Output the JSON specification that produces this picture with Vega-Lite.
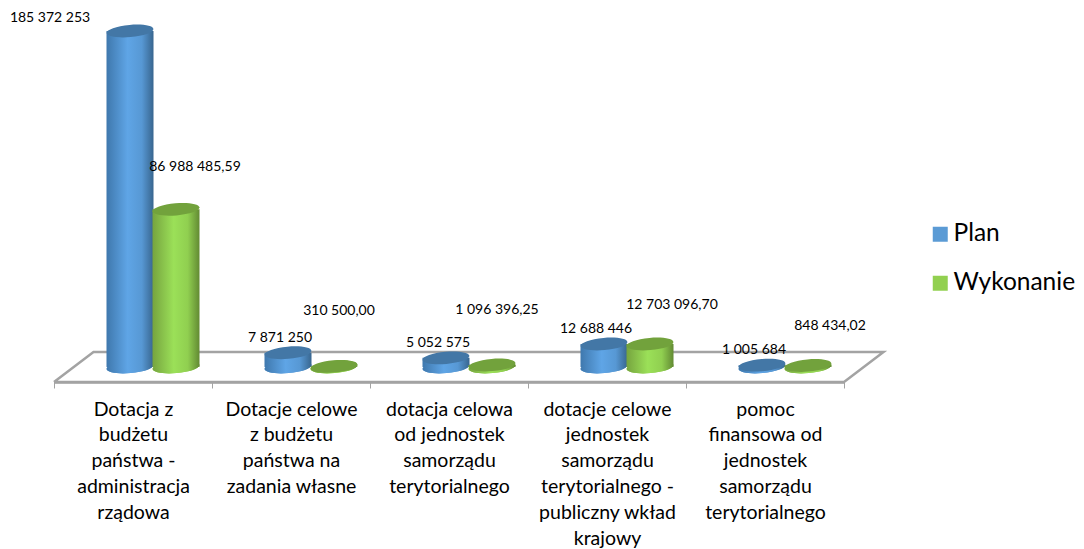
{
"$schema":"https://vega.github.io/schema/vega-lite/v6.json",
"width":790,"height":382,
"autosize":{"type":"none"},
"padding":{"left":54,"top":0,"right":240,"bottom":167},
"background":"white",
"config":{"view":{"stroke":null},"text":{"font":"Lato"}},
"datasets":{
"rows":[
{"cat":"Dotacja z\nbudżetu\npaństwa -\nadministracja\nrządowa","series":"Plan","value":185372253,"label":"185 372 253"},
{"cat":"Dotacja z\nbudżetu\npaństwa -\nadministracja\nrządowa","series":"Wykonanie","value":86988485.59,"label":"86 988 485,59"},
{"cat":"Dotacje celowe\nz budżetu\npaństwa na\nzadania własne","series":"Plan","value":7871250,"label":"7 871 250"},
{"cat":"Dotacje celowe\nz budżetu\npaństwa na\nzadania własne","series":"Wykonanie","value":310500,"label":"310 500,00"},
{"cat":"dotacja celowa\nod jednostek\nsamorządu\nterytorialnego","series":"Plan","value":5052575,"label":"5 052 575"},
{"cat":"dotacja celowa\nod jednostek\nsamorządu\nterytorialnego","series":"Wykonanie","value":1096396.25,"label":"1 096 396,25"},
{"cat":"dotacje celowe\njednostek\nsamorządu\nterytorialnego -\npubliczny wkład\nkrajowy","series":"Plan","value":12688446,"label":"12 688 446"},
{"cat":"dotacje celowe\njednostek\nsamorządu\nterytorialnego -\npubliczny wkład\nkrajowy","series":"Wykonanie","value":12703096.7,"label":"12 703 096,70"},
{"cat":"pomoc\nfinansowa od\njednostek\nsamorządu\nterytorialnego","series":"Plan","value":1005684,"label":"1 005 684"},
{"cat":"pomoc\nfinansowa od\njednostek\nsamorządu\nterytorialnego","series":"Wykonanie","value":848434.02,"label":"848 434,02"}
],
"floor":[
{"corner":1,"along":0,"level":-8275000},
{"corner":2,"along":5,"level":-8275000},
{"corner":3,"along":5.25,"level":8275000},
{"corner":4,"along":0.25,"level":8275000},
{"corner":5,"along":0,"level":-8275000}
]
},
"layer":[
{"data":{"name":"floor"},
 "mark":{"type":"line","color":"#a3a3a3","strokeWidth":2.5,"clip":false},
 "encoding":{
  "x":{"field":"along","type":"quantitative","scale":{"domain":[0,5],"nice":false,"zero":false},"axis":null},
  "y":{"field":"level","type":"quantitative","scale":{"domain":[-8275000,202470000],"nice":false,"zero":false},"axis":null},
  "order":{"field":"corner"}
 }},
{"data":{"name":"rows"},
 "encoding":{
  "x":{"field":"cat","type":"nominal","sort":null,"title":null,
   "scale":{"paddingInner":0,"paddingOuter":0},
   "axis":{"labelAngle":0,"labelExpr":"split(datum.label,'\\n')","labelFont":"Lato","labelFontSize":19.5,"labelColor":"#000000","labelLineHeight":25.8,"labelLimit":0,"labelPadding":21,"labelBaseline":"middle","tickBand":"extent","tickColor":"#a3a3a3","tickSize":6,"tickWidth":1,"domainColor":"#a3a3a3","domainWidth":2.5,"grid":false}},
  "xOffset":{"field":"series","type":"nominal","sort":null,"scale":{"range":[53,145],"paddingInner":0,"paddingOuter":0}},
  "y":{"field":"value","type":"quantitative","stack":null,"scale":{"domain":[-8275000,202470000],"nice":false,"zero":false},"axis":null}
 },
 "layer":[
  {"mark":{"type":"point","filled":true,"size":2209,"opacity":1,"shape":"M-1,0A1,0.26,0,1,1,1,0A1,0.26,0,1,1,-1,0Z","angle":-5},
   "encoding":{"y":{"datum":0},
    "color":{"field":"series","type":"nominal","sort":null,"scale":{"domain":["Plan","Wykonanie"],"range":["#5b9bd5","#92d050"]},
     "legend":{"orient":"none","legendX":874,"legendY":222,"title":null,"symbolType":"square","symbolSize":225,"symbolOpacity":1,"labelFont":"Lato","labelFontSize":24.5,"labelColor":"#000000","labelOffset":1,"rowPadding":24,"labelLimit":0}}}},
  {"transform":[{"filter":"datum.series==='Plan'"}],
   "layer":[
    {"mark":{"type":"point","filled":true,"opacity":1,"size":2209,"shape":"M-1,0A1,0.26,0,1,1,1,0A1,0.26,0,1,1,-1,0Z","angle":-5,
      "fill":{"gradient":"linear","x1":0,"x2":1,"y1":0,"y2":0,"stops":[{"offset":0,"color":"#3f78ad"},{"offset":0.45,"color":"#5fa5e6"},{"offset":0.75,"color":"#5798d4"},{"offset":1,"color":"#38668f"}]}},
     "encoding":{"y":{"datum":0}}},
    {"mark":{"type":"bar","width":47,
      "fill":{"gradient":"linear","x1":0,"x2":1,"y1":0,"y2":0,"stops":[{"offset":0,"color":"#3f78ad"},{"offset":0.45,"color":"#5fa5e6"},{"offset":0.75,"color":"#5798d4"},{"offset":1,"color":"#38668f"}]}},
     "encoding":{"y2":{"datum":0}}},
    {"mark":{"type":"point","filled":true,"opacity":1,"size":2209,"color":"#4377a6","shape":"M-1,0A1,0.26,0,1,1,1,0A1,0.26,0,1,1,-1,0Z","angle":-5}}
   ]},
  {"transform":[{"filter":"datum.series==='Wykonanie'"}],
   "layer":[
    {"mark":{"type":"point","filled":true,"opacity":1,"size":2209,"shape":"M-1,0A1,0.26,0,1,1,1,0A1,0.26,0,1,1,-1,0Z","angle":-5,
      "fill":{"gradient":"linear","x1":0,"x2":1,"y1":0,"y2":0,"stops":[{"offset":0,"color":"#76a43f"},{"offset":0.45,"color":"#9be058"},{"offset":0.75,"color":"#90cf50"},{"offset":1,"color":"#628a33"}]}},
     "encoding":{"y":{"datum":0}}},
    {"mark":{"type":"bar","width":47,
      "fill":{"gradient":"linear","x1":0,"x2":1,"y1":0,"y2":0,"stops":[{"offset":0,"color":"#76a43f"},{"offset":0.45,"color":"#9be058"},{"offset":0.75,"color":"#90cf50"},{"offset":1,"color":"#628a33"}]}},
     "encoding":{"y2":{"datum":0}}},
    {"mark":{"type":"point","filled":true,"opacity":1,"size":2209,"color":"#72a23c","shape":"M-1,0A1,0.26,0,1,1,1,0A1,0.26,0,1,1,-1,0Z","angle":-5}}
   ]},
  {"transform":[{"filter":"datum.series==='Plan' && datum.value<100000000"}],
   "mark":{"type":"text","fontSize":14,"color":"#000000","dx":-8,"dy":-15,"baseline":"middle"},
   "encoding":{"text":{"field":"label"}}},
  {"transform":[{"filter":"datum.series==='Plan' && datum.value>=100000000"}],
   "mark":{"type":"text","fontSize":14,"color":"#000000","dx":-80,"dy":-13,"baseline":"middle"},
   "encoding":{"text":{"field":"label"}}},
  {"transform":[{"filter":"datum.label==='86 988 485,59'"}],
   "mark":{"type":"text","fontSize":14,"color":"#000000","dx":19,"dy":-42.5,"baseline":"middle"},
   "encoding":{"text":{"field":"label"}}},
  {"transform":[{"filter":"datum.label==='310 500,00' || datum.label==='1 096 396,25'"}],
   "mark":{"type":"text","fontSize":14,"color":"#000000","dx":5,"dy":-55,"baseline":"middle"},
   "encoding":{"text":{"field":"label"}}},
  {"transform":[{"filter":"datum.label==='12 703 096,70' || datum.label==='848 434,02'"}],
   "mark":{"type":"text","fontSize":14,"color":"#000000","dx":22,"dy":-39,"baseline":"middle"},
   "encoding":{"text":{"field":"label"}}}
 ]}
],
"resolve":{"scale":{"x":"independent"},"axis":{"x":"independent"}}
}
